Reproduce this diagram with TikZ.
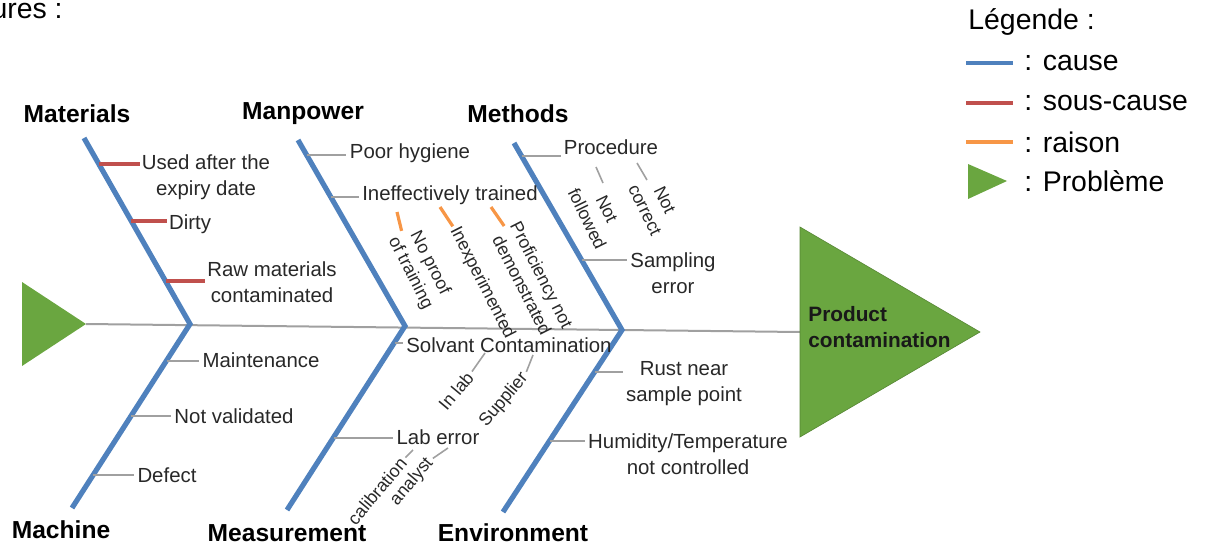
\documentclass[tikz,border=0pt]{standalone}
\usepackage{fontspec}
\setmainfont{Liberation Sans}
\usetikzlibrary{calc}
\definecolor{boneblue}{RGB}{79,129,189}
\definecolor{subred}{RGB}{192,80,77}
\definecolor{reasonorange}{RGB}{247,150,70}
\definecolor{probgreen}{RGB}{106,166,64}
\definecolor{twiggray}{RGB}{160,160,160}
\definecolor{txtgray}{RGB}{40,40,40}
\begin{document}
\begin{tikzpicture}[x=0.5pt,y=-0.5pt,
  bone/.style={boneblue,line width=2.6pt,line join=miter},
  twig/.style={twiggray,line width=0.8pt,shorten >=1.5pt},
  subtwig/.style={subred,line width=1.6pt,shorten >=1pt},
  reason/.style={reasonorange,line width=1.6pt,shorten >=1pt},
  lbl/.style={inner sep=0pt,align=center,text=txtgray,font=\fontsize{10.2}{13}\selectfont},
  rlbl/.style={inner sep=0pt,align=center,text=txtgray,font=\fontsize{8.9}{11}\selectfont},
  cat/.style={inner sep=0pt,text=black,font=\bfseries\fontsize{12.3}{14}\selectfont},
  leg/.style={inner sep=0pt,anchor=west,text=black,font=\fontsize{14.2}{16}\selectfont},
  tri/.style={fill=probgreen,draw=probgreen!80!black,line width=0.3pt},
]
\useasboundingbox (0,0) rectangle (1206,546);

% top-left cut text
\node[leg,anchor=east] (cut) at (63,11) {ures :};

% problem triangles and spine
\coordinate (s1) at (22,282); \coordinate (stip) at (86,324); \coordinate (s3) at (22,366);
\fill[probgreen] (s1) -- (stip) -- (s3) -- cycle;
\coordinate (b1) at (800,227); \coordinate (btip) at (980,332); \coordinate (b3) at (800,437);
\coordinate (head) at (800,332);
\draw[twiggray,line width=1pt] (stip) -- (head);
\draw[tri] (b1) -- (btip) -- (b3) -- cycle;
\node[anchor=west,inner sep=0pt,align=left,text=black!90,font=\bfseries\fontsize{10.4}{13}\selectfont] (prob) at (808,327) {Product\\contamination};

% bones
\coordinate (mt) at (84,138); \coordinate (mv) at (190,324); \coordinate (mb) at (72,508);
\coordinate (pt) at (298,140); \coordinate (pv) at (405,326); \coordinate (pb) at (287,510);
\coordinate (et) at (514,143); \coordinate (ev) at (622,330); \coordinate (eb) at (503,512);
\draw[bone] (mt) -- (mv) -- (mb);
\draw[bone] (pt) -- (pv) -- (pb);
\draw[bone] (et) -- (ev) -- (eb);

% categories
\node[cat] (cMat) at (77,114) {Materials};
\node[cat] (cMan) at (303,114) {Manpower};
\node[cat] (cMet) at (518,114) {Methods};
\node[cat] (cMac) at (61,530) {Machine};
\node[cat] (cMea) at (287,533) {Measurement};
\node[cat] (cEnv) at (513,533) {Environment};

% Materials
\node[lbl] (used) at (206,177) {Used after the\\expiry date};
\node[lbl] (dirty) at (190,224) {Dirty};
\node[lbl] (raw) at (272,282) {Raw materials\\contaminated};
\coordinate (kUsed) at (99,164); \coordinate (kDirty) at (131,221); \coordinate (kRaw) at (166,281);
\draw[subtwig] (kUsed) -- (used.west |- kUsed);
\draw[subtwig] (kDirty) -- (dirty.west |- kDirty);
\draw[subtwig] (kRaw) -- (raw.west |- kRaw);

% Manpower
\node[lbl] (poor) at (410,153) {Poor hygiene};
\node[lbl] (ineff) at (450,195) {Ineffectively trained};
\coordinate (kPoor) at (307,155); \coordinate (kIneff) at (331,197);
\draw[twig] (kPoor) -- (poor.west |- kPoor);
\draw[twig] (kIneff) -- (ineff.west |- kIneff);
\node[rlbl,rotate=-63] (noproof) at (420,268) {No proof\\of training};
\node[rlbl,rotate=-63] (inexp) at (482,283) {Inexperimented};
\node[rlbl,rotate=-63] (profic) at (532,280) {Proficiency not\\demonstrated};
\coordinate (rNo) at (397,212); \coordinate (rInexp) at (440,207); \coordinate (rProf) at (491,207);
\draw[reason] (rNo) -- (noproof.west);
\draw[reason] (rInexp) -- (inexp.west);
\draw[reason] (rProf) -- (profic.west);

% Methods
\node[lbl] (proc) at (611,147) {Procedure};
\node[lbl] (samp) at (673,273) {Sampling\\error};
\coordinate (kProc) at (522,156); \coordinate (kSamp) at (582,260);
\draw[twig] (kProc) -- (proc.west |- kProc);
\draw[twig] (kSamp) -- (samp.west |- kSamp);
\node[rlbl,rotate=-64] (nfol) at (597,214) {Not\\followed};
\node[rlbl,rotate=-64] (ncor) at (655,205) {Not\\correct};
\coordinate (nfA) at (596,167); \coordinate (nfB) at (603,183);
\coordinate (ncA) at (637,163); \coordinate (ncB) at (647,180);
\draw[twig,shorten >=0pt] (nfA) -- (nfB);
\draw[twig,shorten >=0pt] (ncA) -- (ncB);

% Machine
\node[lbl] (maint) at (261,360) {Maintenance};
\node[lbl] (notval) at (234,416) {Not validated};
\node[lbl] (defect) at (167,475) {Defect};
\coordinate (kMaint) at (167,361); \coordinate (kNotval) at (131,416); \coordinate (kDefect) at (93,475);
\draw[twig] (kMaint) -- (maint.west |- kMaint);
\draw[twig] (kNotval) -- (notval.west |- kNotval);
\draw[twig] (kDefect) -- (defect.west |- kDefect);

% Measurement
\node[lbl] (solv) at (509,345) {Solvant Contamination};
\node[lbl] (laberr) at (438,437) {Lab error};
\coordinate (kSolv) at (395,343); \coordinate (kLab) at (334,438);
\draw[twig] (kSolv) -- (solv.west |- kSolv);
\draw[twig] (kLab) -- (laberr.west |- kLab);
\node[rlbl,rotate=50] (inlab) at (456,391) {In lab};
\node[rlbl,rotate=50] (suppl) at (504,400) {Supplier};
\node[rlbl,rotate=50] (calib) at (377,491) {calibration};
\node[rlbl,rotate=50] (analy) at (412,482) {analyst};
\coordinate (pInlab) at (485,353); \coordinate (pSuppl) at (533,355);
\coordinate (pCalib) at (413,450); \coordinate (pAnaly) at (448,448);
\draw[twig,shorten >=0pt,shorten <=1.5pt] (inlab.east) -- (pInlab);
\draw[twig,shorten >=0pt,shorten <=1.5pt] (suppl.east) -- (pSuppl);
\draw[twig,shorten >=0pt,shorten <=1.5pt] (calib.east) -- (pCalib);
\draw[twig,shorten >=0pt,shorten <=1.5pt] (analy.east) -- (pAnaly);

% Environment
\node[lbl] (rust) at (684,384) {Rust near\\sample point};
\node[lbl] (humid) at (688,454) {Humidity/Temperature\\not controlled};
\coordinate (kRust) at (595,372); \coordinate (kHumid) at (550,441);
\draw[twig] (kRust) -- (rust.west |- kRust);
\draw[twig] (kHumid) -- (humid.west |- kHumid);

% Legend
\node[leg] (legT) at (968,22) {Légende :};
\coordinate (l1a) at (966,63); \coordinate (l1b) at (1013,63);
\coordinate (l2a) at (966,103); \coordinate (l2b) at (1013,103);
\coordinate (l3a) at (966,142); \coordinate (l3b) at (1013,142);
\draw[boneblue,line width=2pt] (l1a) -- (l1b);
\draw[subred,line width=2pt] (l2a) -- (l2b);
\draw[reasonorange,line width=2pt] (l3a) -- (l3b);
\node[leg] (leg1) at (1024,63) {: cause};
\node[leg] (leg2) at (1024,103) {: sous-cause};
\node[leg] (leg3) at (1024,142) {: raison};
\coordinate (lt1) at (968,164); \coordinate (lt2) at (1007,181); \coordinate (lt3) at (968,199);
\fill[probgreen] (lt1) -- (lt2) -- (lt3) -- cycle;
\node[leg] (leg4) at (1024,181) {: Problème};
\end{tikzpicture}
\end{document}
